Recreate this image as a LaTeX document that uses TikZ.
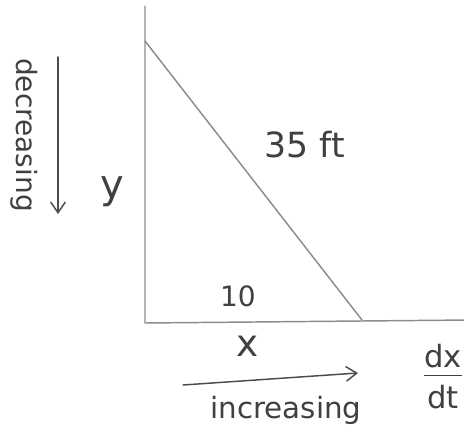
\documentclass[tikz,border=0pt]{standalone}
\usepackage{fontspec}
\setmainfont{DejaVu Sans}
\usetikzlibrary{positioning,arrows.meta}

\begin{document}
\begin{tikzpicture}[
  x=0.75pt, y=-0.75pt,
  pen/.style={line width=1.1pt, black!45, line cap=round},
  arr/.style={pen, black!70, -{Straight Barb[length=8pt,width=11pt]}},
  lbl/.style={text=black!75, inner sep=1pt, font=\fontsize{20}{24}\selectfont}
]
\useasboundingbox (0,0) rectangle (464,432);
\clip (0,0) rectangle (464,432);
% axes and ladder
\coordinate (top) at (145,6);
\coordinate (origin) at (145,323);
\coordinate (right) at (470,320);
\coordinate (wall) at (145,41);
\coordinate (foot) at (362,320);
\draw[pen] (top) -- (origin) -- (right);
\draw[pen] (wall) -- (foot);
% labels
\node[lbl, font=\fontsize{26}{30}\selectfont] (len) at (305,145) {35 ft};
\node[lbl, font=\fontsize{30}{34}\selectfont] (yy) at (112,192) {y};
\node[lbl, font=\fontsize{21}{24}\selectfont] (ten) at (238,296) {10};
\node[lbl, font=\fontsize{28}{32}\selectfont] (xx) at (248,346) {x};
\node[lbl, rotate=-90, font=\fontsize{21}{24}\selectfont] (dec) at (24,135) {decreasing};
\coordinate (ys) at (58,57);
\coordinate (ye) at (58,214);
\draw[arr] (ys) -- (ye);
\coordinate (xs) at (183,385);
\coordinate (xe) at (358,373);
\draw[arr] (xs) -- (xe);
\node[lbl, font=\fontsize{22}{26}\selectfont] (inc) at (286,410) {increasing};
\node[lbl, anchor=east, inner sep=0pt, font=\fontsize{23}{27}\selectfont] (rate) at (462,381)
  {\begin{tabular}{@{}c@{}}dx\\[-3pt]\hline\rule{0pt}{25pt}dt\end{tabular}};
\end{tikzpicture}
\end{document}
